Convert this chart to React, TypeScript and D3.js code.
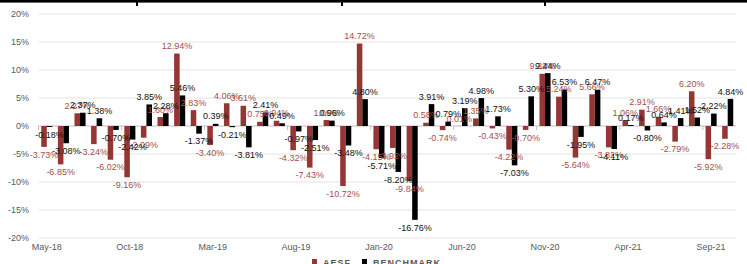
import React from 'react';
import * as d3 from 'd3';

const months = [
  'May-18', 'Jun-18', 'Jul-18', 'Aug-18', 'Sep-18', 'Oct-18', 'Nov-18', 'Dec-18',
  'Jan-19', 'Feb-19', 'Mar-19', 'Apr-19', 'May-19', 'Jun-19', 'Jul-19', 'Aug-19',
  'Sep-19', 'Oct-19', 'Nov-19', 'Dec-19', 'Jan-20', 'Feb-20', 'Mar-20', 'Apr-20',
  'May-20', 'Jun-20', 'Jul-20', 'Aug-20', 'Sep-20', 'Oct-20', 'Nov-20', 'Dec-20',
  'Jan-21', 'Feb-21', 'Mar-21', 'Apr-21', 'May-21', 'Jun-21', 'Jul-21', 'Aug-21',
  'Sep-21', 'Oct-21',
];

const aesf = [
  -3.73, -6.85, 2.27, -3.24, -6.02, -9.16, -2.09, 1.6, 12.94, 2.83, -3.4, 4.06,
  3.61, 0.75, 0.94, -4.32, -7.43, 1.06, -10.72, 14.72, -4.15, -3.92, -9.84, 0.58,
  -0.74, 0.01, 1.35, -0.43, -4.22, -0.7, 9.32, 5.24, -5.64, 5.66, -3.82, 1.06,
  2.91, 1.66, -2.79, 6.2, -5.92, -2.28,
];

const benchmark = [
  -0.18, -3.08, 2.37, 1.38, -0.7, -2.42, 3.85, 2.28, 5.46, -1.37, 0.39, -0.21,
  -3.81, 2.41, 0.49, -0.97, -2.51, 0.96, -3.48, 4.8, -5.71, -8.2, -16.76, 3.91,
  0.79, 3.19, 4.98, 1.73, -7.03, 5.3, 9.44, 6.53, -1.95, 6.47, -4.11, 0.17,
  -0.8, 0.64, 1.41, 1.52, 2.22, 4.84,
];

const yTicks = [-20, -15, -10, -5, 0, 5, 10, 15, 20];
const xTickLabels = ['May-18', 'Oct-18', 'Mar-19', 'Aug-19', 'Jan-20', 'Jun-20', 'Nov-20', 'Apr-21', 'Sep-21'];
const seriesNames = ['AESF', 'BENCHMARK'];

const RED = '#943634';
const RED_LABEL = '#a24f4d';
const FONT = 'Liberation Sans, Arial, sans-serif';

export default function App() {
  const W = 747;
  const H = 264;
  const x = d3.scaleBand<string>().domain(months).range([38.5, 736]).paddingInner(0).paddingOuter(0);
  const inner = d3.scaleBand<string>().domain(seriesNames).range([0, x.bandwidth()]).paddingInner(0).paddingOuter(0.5);
  const y = d3.scaleLinear().domain([-20, 20]).range([238, 14]);
  const fmt = (v: number) => `${v.toFixed(2)}%`;

  const series = [
    { name: 'AESF', values: aesf, color: RED, label: RED_LABEL },
    { name: 'BENCHMARK', values: benchmark, color: '#000000', label: '#111111' },
  ];

  return (
    <svg width={W} height={H} style={{ position: 'absolute', left: 0, top: 0, background: '#fff' }} fontFamily={FONT}>
      <rect x={0} y={0} width={W} height={H} fill="#fff" />
      {/* top table border */}
      <rect x={0} y={0} width={W} height={2.6} fill="#000" />
      {[137, 342, 545].map((vx) => (
        <rect key={vx} x={vx - 1} y={0} width={2} height={6} fill="#000" />
      ))}
      {/* grid */}
      {yTicks.map((t) => (
        <g key={t}>
          <line x1={38.5} x2={736} y1={y(t)} y2={y(t)} stroke={t === 0 ? '#bfbfbf' : '#e3e3e3'} strokeWidth={1} />
          <text x={29} y={y(t)} dy="0.35em" textAnchor="end" fontSize={9} fill="#595959">
            {`${t}%`}
          </text>
        </g>
      ))}
      {/* x ticks */}
      {xTickLabels.map((m) => (
        <g key={m}>
          <line x1={x(m)!} x2={x(m)!} y1={y(0)} y2={y(0) + 4} stroke="#bfbfbf" />
          <text x={x(m)! + x.bandwidth() / 2} y={247} dy="0.35em" textAnchor="middle" fontSize={9} fill="#595959">
            {m}
          </text>
        </g>
      ))}
      {/* bars */}
      {series.map((s) =>
        s.values.map((v, i) => {
          const bx = x(months[i])! + inner(s.name)!;
          const y0 = y(0);
          const yv = y(v);
          return (
            <rect key={`${s.name}-${i}`} x={bx} y={Math.min(y0, yv)} width={inner.bandwidth()} height={Math.abs(yv - y0)} fill={s.color} />
          );
        })
      )}
      {/* labels */}
      {series.map((s) =>
        s.values.map((v, i) => {
          const cx = x(months[i])! + inner(s.name)! + inner.bandwidth() / 2;
          const yv = y(v);
          const ly = v >= 0 ? yv - 7.5 : yv + 7.5;
          return (
            <text key={`l-${s.name}-${i}`} x={cx} y={ly} dy="0.35em" textAnchor="middle" fontSize={9} fill={s.label}>
              {fmt(v)}
            </text>
          );
        })
      )}
      {/* legend */}
      <rect x={312} y={259} width={5} height={6} fill={RED} />
      <text x={323} y={266} fontSize={9} fontWeight="bold" fill="#595959" letterSpacing={1}>
        AESF
      </text>
      <rect x={362} y={259} width={5} height={6} fill="#000" />
      <text x={373} y={266} fontSize={9} fontWeight="bold" fill="#595959" letterSpacing={1}>
        BENCHMARK
      </text>
    </svg>
  );
}
